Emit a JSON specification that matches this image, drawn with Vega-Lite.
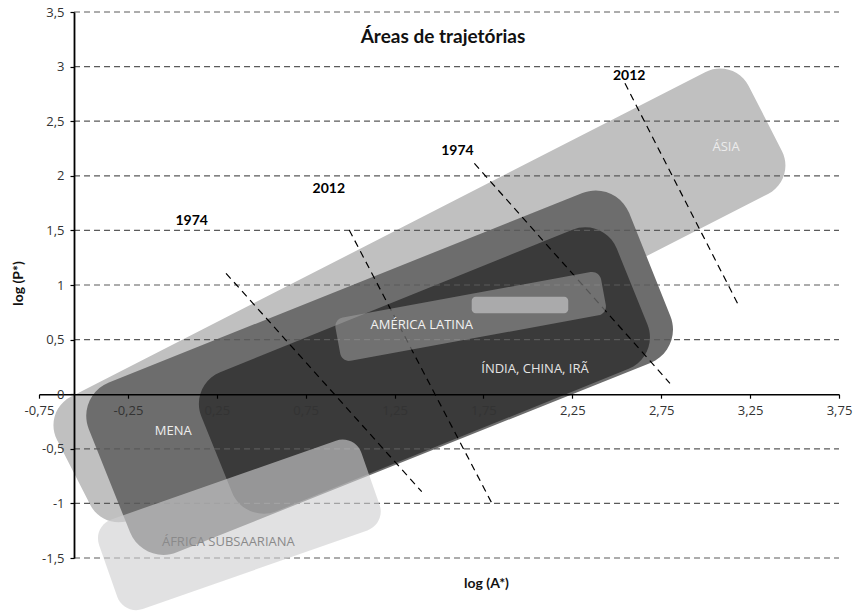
{
  "$schema": "https://vega.github.io/schema/vega-lite/v6.json",
  "width": 800,
  "height": 546,
  "autosize": {"type": "none"},
  "padding": {"left": 39, "top": 12, "right": 17, "bottom": 57},
  "background": "white",
  "config": {"view": {"stroke": null}, "font": "Open Sans"},
  "title": {
    "text": "Áreas de trajetórias",
    "font": "Lato",
    "fontSize": 19,
    "fontWeight": "bold",
    "color": "#111111",
    "anchor": "middle",
    "frame": "group",
    "baseline": "middle",
    "offset": -50,
    "dx": 4
  },
  "datasets": {
    "regions": [
      {"region": "Ásia", "x": 1.390, "y": 0.905},
      {"region": "MENA", "x": 1.166, "y": 0.197},
      {"region": "Índia, China, Irã", "x": 1.418, "y": 0.217},
      {"region": "América Latina", "x": 1.678, "y": 0.712},
      {"region": "África Subsaariana", "x": 0.377, "y": -1.197}
    ],
    "regionLabels": [
      {"label": "ÁSIA", "x": 3.115, "y": 2.264},
      {"label": "AMÉRICA LATINA", "x": 1.403, "y": 0.634},
      {"label": "ÍNDIA, CHINA, IRÃ", "x": 2.040, "y": 0.231},
      {"label": "MENA", "x": 0.005, "y": -0.337},
      {"label": "ÁFRICA SUBSAARIANA", "x": 0.315, "y": -1.349}
    ],
    "levels": [
      {"y": -1.5}, {"y": -1}, {"y": -0.5}, {"y": 0.5}, {"y": 1},
      {"y": 1.5}, {"y": 2}, {"y": 2.5}, {"y": 3}, {"y": 3.5}
    ],
    "frontiers": [
      {"year": "1974", "x": 0.302, "y": 1.107, "x2": 1.403, "y2": -0.893},
      {"year": "2012", "x": 0.995, "y": 1.504, "x2": 1.796, "y2": -0.994},
      {"year": "1974", "x": 1.699, "y": 2.114, "x2": 2.799, "y2": 0.100},
      {"year": "2012", "x": 2.546, "y": 2.847, "x2": 3.189, "y2": 0.801}
    ],
    "yearLabels": [
      {"year": "1974", "x": 0.109, "y": 1.586},
      {"year": "2012", "x": 0.880, "y": 1.877},
      {"year": "1974", "x": 1.604, "y": 2.229},
      {"year": "2012", "x": 2.570, "y": 2.911}
    ],
    "latinCore": [
      {"x": 1.684, "x2": 2.227, "y": 0.893, "y2": 0.741}
    ]
  },
  "layer": [
    {
      "data": {"name": "regions"},
      "transform": [{"filter": "datum.region === 'Ásia'"}],
      "mark": {
        "type": "point", "filled": true, "fill": "#c0c0c0", "opacity": 1, "strokeWidth": 0,
        "size": 4, "angle": 332.9,
        "shape": "M-356.5 -68.5 L356.5 -68.5 A32 32 0 0 1 388.5 -36.5 L388.5 36.5 A32 32 0 0 1 356.5 68.5 L-356.5 68.5 A32 32 0 0 1 -388.5 36.5 L-388.5 -36.5 A32 32 0 0 1 -356.5 -68.5 Z"
      },
      "encoding": {
        "x": {
          "field": "x",
          "type": "quantitative",
          "scale": {"domain": [-0.75, 3.75], "nice": false, "zero": false},
          "axis": {
            "title": "log (A*)",
            "values": [-0.75, -0.25, 0.25, 0.75, 1.25, 1.75, 2.25, 2.75, 3.25, 3.75],
            "labelExpr": "replace(datum.value + '', '.', ',')",
            "offset": -163.8,
            "zindex": 1,
            "grid": false,
            "domainColor": "#000000",
            "domainWidth": 1.6,
            "tickColor": "#000000",
            "tickSize": 4,
            "tickWidth": 1.2,
            "labelFlush": false,
            "labelPadding": 6,
            "labelFont": "Open Sans",
            "labelFontSize": 13,
            "labelColor": "#333333",
            "titleFont": "Lato",
            "titleFontSize": 14,
            "titleFontWeight": "bold",
            "titleColor": "#111111",
            "titleX": 447,
            "titleY": 188.8,
            "titleAlign": "center",
            "titleBaseline": "middle"
          }
        },
        "y": {
          "field": "y",
          "type": "quantitative",
          "scale": {"domain": [-1.5, 3.5], "nice": false, "zero": false},
          "axis": {
            "title": "log (P*)",
            "values": [-1.5, -1, -0.5, 0, 0.5, 1, 1.5, 2, 2.5, 3, 3.5],
            "labelExpr": "replace(datum.value + '', '.', ',')",
            "offset": -35,
            "zindex": 1,
            "grid": false,
            "domainColor": "#000000",
            "domainWidth": 1.8,
            "tickColor": "#000000",
            "tickSize": 4,
            "tickWidth": 1.2,
            "labelFlush": false,
            "labelPadding": 6,
            "labelFont": "Open Sans",
            "labelFontSize": 13,
            "labelColor": "#333333",
            "titleFont": "Lato",
            "titleFontSize": 14,
            "titleFontWeight": "bold",
            "titleColor": "#111111",
            "titleAngle": -90,
            "titleX": -56,
            "titleY": 271,
            "titleAlign": "center",
            "titleBaseline": "middle"
          }
        }
      }
    },
    {
      "data": {"name": "regions"},
      "transform": [{"filter": "datum.region === 'MENA'"}],
      "mark": {
        "type": "point", "filled": true, "fill": "#6d6d6d", "opacity": 1, "strokeWidth": 0,
        "size": 4, "angle": 338.2,
        "shape": "M-255 -91.5 L255 -91.5 A36 36 0 0 1 291 -55.5 L291 55.5 A36 36 0 0 1 255 91.5 L-255 91.5 A36 36 0 0 1 -291 55.5 L-291 -55.5 A36 36 0 0 1 -255 -91.5 Z"
      },
      "encoding": {
        "x": {"field": "x", "type": "quantitative"},
        "y": {"field": "y", "type": "quantitative"}
      }
    },
    {
      "data": {"name": "regions"},
      "transform": [{"filter": "datum.region === 'Índia, China, Irã'"}],
      "mark": {
        "type": "point", "filled": true, "fill": "#3a3a3a", "opacity": 1, "strokeWidth": 0,
        "size": 4, "angle": 338,
        "shape": "M-190 -75 L190 -75 A34 34 0 0 1 224 -41 L224 41 A34 34 0 0 1 190 75 L-190 75 A34 34 0 0 1 -224 41 L-224 -41 A34 34 0 0 1 -190 -75 Z"
      },
      "encoding": {
        "x": {"field": "x", "type": "quantitative"},
        "y": {"field": "y", "type": "quantitative"}
      }
    },
    {
      "data": {"name": "levels"},
      "mark": {"type": "rule", "color": "#5a5a5a", "strokeWidth": 1.2, "strokeDash": [6, 4]},
      "encoding": {
        "x": {"datum": -0.553, "type": "quantitative"},
        "x2": {"datum": 3.75},
        "y": {"field": "y", "type": "quantitative"}
      }
    },
    {
      "data": {"name": "frontiers"},
      "mark": {"type": "rule", "color": "#000000", "strokeWidth": 1.2, "strokeDash": [7, 5]},
      "encoding": {
        "x": {"field": "x", "type": "quantitative"},
        "y": {"field": "y", "type": "quantitative"},
        "x2": {"field": "x2"},
        "y2": {"field": "y2"}
      }
    },
    {
      "data": {"name": "regions"},
      "transform": [{"filter": "datum.region === 'América Latina'"}],
      "mark": {
        "type": "point", "filled": true, "fill": "#a8a8a8", "opacity": 0.5, "strokeWidth": 0,
        "size": 4, "angle": 349.6,
        "shape": "M-126 -22 L126 -22 A9 9 0 0 1 135 -13 L135 13 A9 9 0 0 1 126 22 L-126 22 A9 9 0 0 1 -135 13 L-135 -13 A9 9 0 0 1 -126 -22 Z"
      },
      "encoding": {
        "x": {"field": "x", "type": "quantitative"},
        "y": {"field": "y", "type": "quantitative"}
      }
    },
    {
      "data": {"name": "latinCore"},
      "mark": {"type": "rect", "fill": "#aaaaab", "cornerRadius": 4},
      "encoding": {
        "x": {"field": "x", "type": "quantitative"},
        "y": {"field": "y", "type": "quantitative"},
        "x2": {"field": "x2"},
        "y2": {"field": "y2"}
      }
    },
    {
      "data": {"name": "regions"},
      "transform": [{"filter": "datum.region === 'África Subsaariana'"}],
      "mark": {
        "type": "point", "filled": true, "fill": "#cfcfd1", "opacity": 0.62, "strokeWidth": 0,
        "size": 4, "angle": 340.7,
        "shape": "M-119 -47.5 L119 -47.5 A20 20 0 0 1 139 -27.5 L139 27.5 A20 20 0 0 1 119 47.5 L-119 47.5 A20 20 0 0 1 -139 27.5 L-139 -27.5 A20 20 0 0 1 -119 -47.5 Z"
      },
      "encoding": {
        "x": {"field": "x", "type": "quantitative"},
        "y": {"field": "y", "type": "quantitative"}
      }
    },
    {
      "data": {"name": "yearLabels"},
      "mark": {"type": "text", "font": "Lato", "fontSize": 14, "fontWeight": "bold", "color": "#000000", "align": "center", "baseline": "middle"},
      "encoding": {
        "x": {"field": "x", "type": "quantitative"},
        "y": {"field": "y", "type": "quantitative"},
        "text": {"field": "year"}
      }
    },
    {
      "data": {"name": "regionLabels"},
      "mark": {"type": "text", "font": "Open Sans", "fontSize": 13, "align": "center", "baseline": "middle"},
      "encoding": {
        "x": {"field": "x", "type": "quantitative"},
        "y": {"field": "y", "type": "quantitative"},
        "text": {"field": "label"},
        "color": {
          "field": "label",
          "type": "nominal",
          "legend": null,
          "scale": {
            "domain": ["ÁSIA", "AMÉRICA LATINA", "ÍNDIA, CHINA, IRÃ", "MENA", "ÁFRICA SUBSAARIANA"],
            "range": ["#ececec", "#f2f2f2", "#e4e4e4", "#eeeeee", "#8a8a8a"]
          }
        }
      }
    }
  ]
}
